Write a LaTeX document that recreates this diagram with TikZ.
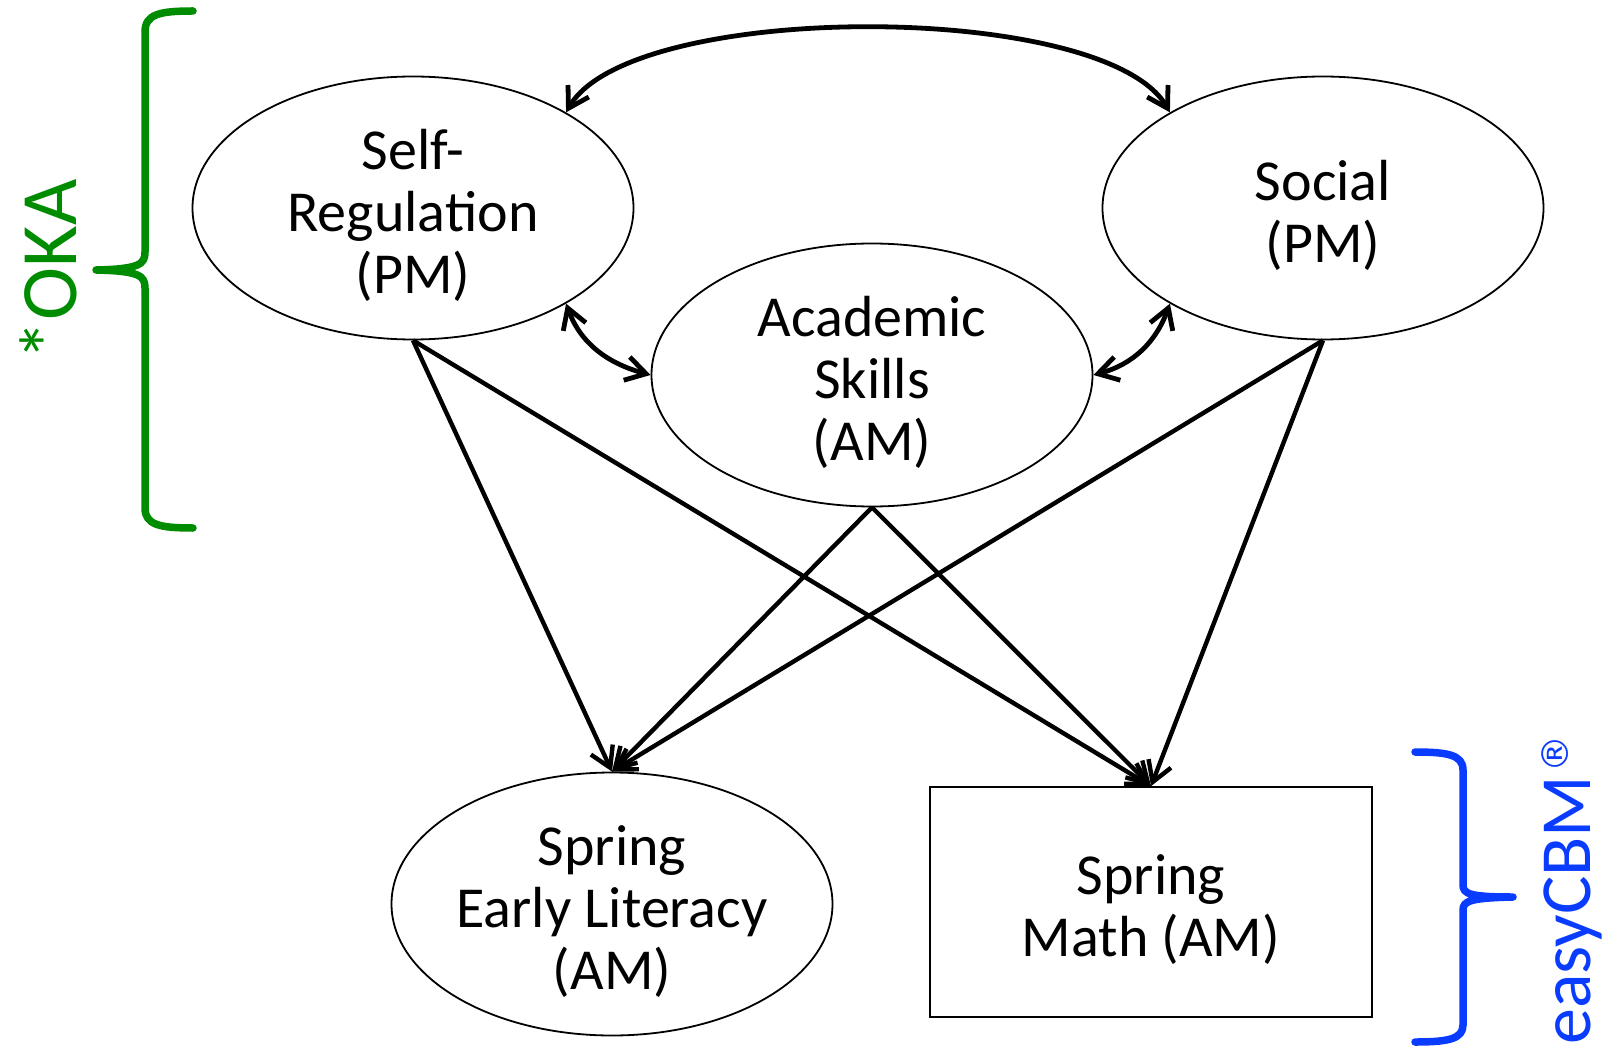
\documentclass[tikz,border=0pt]{standalone}
\usepackage{fontspec}
\setmainfont{Carlito}
\newfontfamily\regfont{DejaVu Sans}
\usetikzlibrary{shapes,arrows.meta}
\definecolor{okagreen}{RGB}{0,140,0}
\definecolor{cbmblue}{RGB}{10,60,255}
\newcommand{\topgap}{\rule{0pt}{55pt}}
\tikzstyle{latent} = [ellipse, draw, line width=1.8pt, minimum width=441pt,
    minimum height=263pt, inner sep=-20pt, align=center, font=\fontsize{58}{62}\selectfont]
\tikzstyle{observed} = [rectangle, draw, line width=1.8pt, minimum width=442pt,
    minimum height=230pt, align=center, font=\fontsize{58}{62}\selectfont]
\tikzstyle{effect} = [draw, line width=4.4pt, ->]
\tikzstyle{corr} = [draw, line width=4.8pt, <->]
\tikzstyle{brace} = [draw, line width=7.5pt, line cap=round, line join=round]

\begin{document}
\begin{tikzpicture}[x=1pt, y=-1pt, >={Straight Barb[length=20pt,width=24pt]}]
  \useasboundingbox (0,0) rectangle (1606,1048);
  % Place nodes
  \node [latent] (sr) at (413,208) {\topgap Self-\\Regulation\\(PM)};
  \node [latent] (soc) at (1323,208) {\topgap Social\\(PM)};
  \node [latent] (acad) at (872,375) {\topgap Academic\\Skills\\(AM)};
  \node [latent] (lit) at (612,904) {\topgap Spring\\Early Literacy\\(AM)};
  \node [observed] (math) at (1151,902) {\topgap Spring\\Math (AM)};
  % Draw edges
  \path [corr] (sr.32) to[out=60, in=120, looseness=0.55] (soc.148);
  \path [corr] (sr.-32) to[out=-70, in=165] (acad.west);
  \path [corr] (soc.212) to[out=-110, in=15] (acad.east);
  \path [effect] (sr.south) -- (lit.north);
  \path [effect] (sr.south) -- (math.north);
  \path [effect] (acad.south) -- (lit.north);
  \path [effect] (acad.south) -- (math.north);
  \path [effect] (soc.south) -- (lit.north);
  \path [effect] (soc.south) -- (math.north);

  % Braces
  \draw [brace, okagreen] (193,11) .. controls (160,11) and (145,14) .. (145,32)
    -- (145,252) .. controls (145,264) and (140,269) .. (96,270)
    .. controls (140,271) and (145,276) .. (145,288)
    -- (145,508) .. controls (145,525) and (160,528) .. (193,528);
  \node [rotate=90, anchor=base, inner sep=0pt, text=okagreen,
    font=\fontsize{80}{80}\selectfont] (oka) at (76,270) {*OKA};

  \draw [brace, cbmblue] (1415,752) .. controls (1448,752) and (1463,755) .. (1463,770)
    -- (1463,885) .. controls (1463,894) and (1470,897) .. (1513,897)
    .. controls (1470,898) and (1463,901) .. (1463,910)
    -- (1463,1025) .. controls (1463,1039) and (1448,1042) .. (1415,1042);
  \node [rotate=90, anchor=base west, inner sep=0pt, text=cbmblue,
    font=\fontsize{72}{72}\selectfont] (cbm) at (1590,1045)
    {easyCBM\kern3pt\raisebox{22pt}{\regfont\fontsize{37}{37}\selectfont ®}};
\end{tikzpicture}
\end{document}
